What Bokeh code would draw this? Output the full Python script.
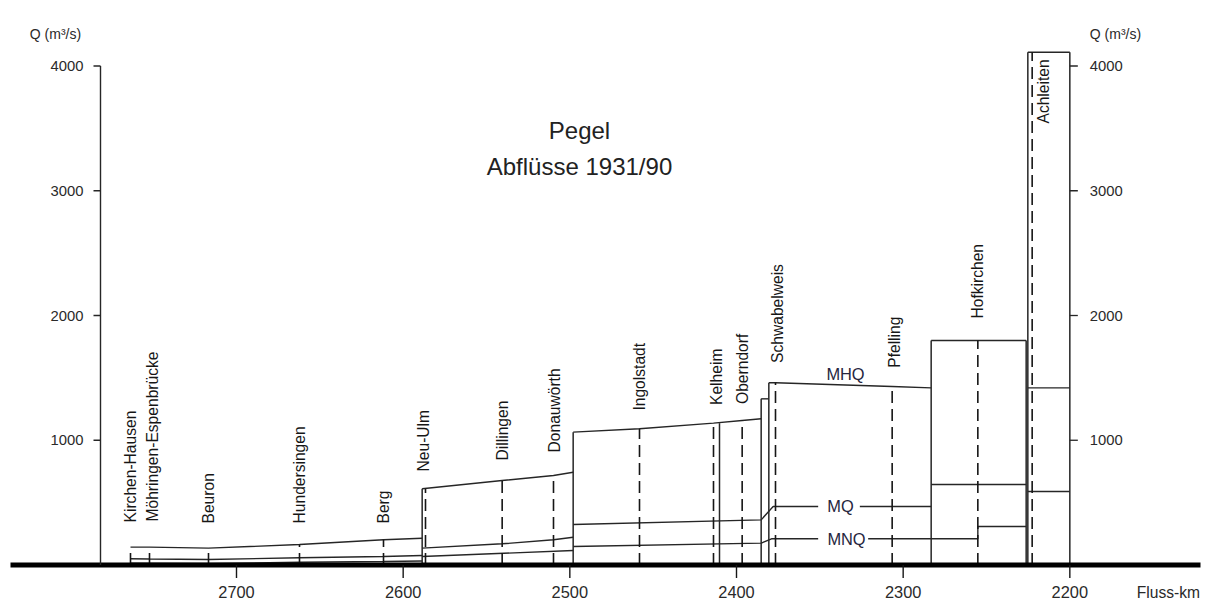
import math
from bokeh.plotting import figure
from bokeh.models import ColumnDataSource, Range1d
from bokeh.core.properties import value
from bokeh.embed import file_html
from bokeh.resources import INLINE

# ------------------------------------------------------------------ data
title_lines = ["Pegel", "Abflüsse 1931/90"]
y_label = "Q (m³/s)"
x_label = "Fluss-km"

x_ticks = [2700, 2600, 2500, 2400, 2300, 2200]
y_ticks = [1000, 2000, 3000, 4000]

station_names = ["Kirchen-Hausen", "Möhringen-Espenbrücke", "Beuron", "Hundersingen",
                 "Berg", "Neu-Ulm", "Dillingen", "Donauwörth", "Ingolstadt", "Kelheim",
                 "Oberndorf", "Schwabelweis", "Pfelling", "Hofkirchen", "Achleiten"]
station_km = [2763.6, 2752.2, 2716.8, 2662.2, 2611.8, 2586.6, 2540.6, 2509.8,
              2458.2, 2413.8, 2396.6, 2376.6, 2306.6, 2255.2, 2222.6]
station_mhq = [143, 143, 135, 164, 202, 611, 677, 717, 1092, 1137, 1158, 1461, 1431, 1800, 4110]

# reach boundaries (tributary inflows): km and MHQ height of the step
boundary_km = [2588.6, 2498.0, 2410.2, 2385.2, 2380.6, 2283.2, 2226.2, 2225.2, 2200.0]
boundary_q = [611, 1065, 1137, 1332, 1461, 1800, 1800, 4110, 4110]

# MHQ profile, one list per reach
mhq_km = [[2763.6, 2752.2, 2716.8, 2662.2, 2611.8, 2588.6],
          [2588.6, 2540.6, 2509.8, 2498.0],
          [2498.0, 2458.2, 2413.8, 2396.6, 2385.2],
          [2385.2, 2380.6],
          [2380.6, 2376.6, 2306.6, 2283.2],
          [2283.2, 2226.2],
          [2225.2, 2200.0]]
mhq_q = [[143, 143, 135, 164, 202, 215],
         [611, 677, 717, 744],
         [1065, 1092, 1137, 1158, 1172],
         [1332, 1332],
         [1461, 1461, 1431, 1420],
         [1800, 1800],
         [4110, 4110]]

# MQ profile
mq_km = [[2763.6, 2752.2, 2716.8, 2662.2, 2611.8, 2588.6],
         [2588.6, 2540.6, 2509.8, 2498.0],
         [2498.0, 2385.2, 2378.0, 2351.0],
         [2326.0, 2283.2],
         [2283.2, 2226.2],
         [2225.2, 2200.0]]
mq_q = [[50, 48, 44, 58, 68, 76],
        [135, 170, 202, 223],
        [325, 362, 469, 469],
        [469, 469],
        [645, 645],
        [1420, 1420]]

# MNQ profile
mnq_km = [[2763.6, 2716.8, 2662.2, 2611.8, 2588.6],
          [2588.6, 2498.0],
          [2498.0, 2385.2, 2379.0, 2351.0],
          [2321.0, 2255.2, 2255.2, 2226.2],
          [2225.2, 2200.0]]
mnq_q = [[15, 12, 22, 28, 32],
         [68, 116],
         [148, 175, 210, 210],
         [210, 210, 309, 309],
         [589, 589]]

series_names = ["MHQ", "MQ", "MNQ"]

# ------------------------------------------------------------------ layout
W, H = 1214, 603
KM_LEFT, KM_RIGHT = 2841.6, 2113.2
Q_BOTTOM, Q_TOP = -308.6, 4525.1
PPK = W / (KM_LEFT - KM_RIGHT)      # pixels per km
PPQ = H / (Q_TOP - Q_BOTTOM)        # pixels per m3/s


def kx(px):
    return px / PPK


def qy(px):
    return px / PPQ


FONT = "Liberation Sans"
INK = "#161616"
LINE = "#262626"
TXT = "#2a2a2a"

p = figure(width=W, height=H, x_range=Range1d(KM_LEFT, KM_RIGHT),
           y_range=Range1d(Q_BOTTOM, Q_TOP), output_backend="svg",
           toolbar_location=None, x_axis_type=None, y_axis_type=None,
           title=None, min_border=0, outline_line_color=None,
           background_fill_color="white", border_fill_color="white")
p.grid.visible = False

left_axis_km = x_ticks[0] + kx(236 - 100)
right_axis_km = x_ticks[-1]

# profiles
p.multi_line(xs=mhq_km, ys=mhq_q, line_color=LINE, line_width=1.4)
p.multi_line(xs=mq_km, ys=mq_q, line_color=LINE, line_width=1.4)
p.multi_line(xs=mnq_km, ys=mnq_q, line_color=LINE, line_width=1.4)

# reach boundaries
p.segment(x0=boundary_km, y0=[0] * len(boundary_km), x1=boundary_km, y1=boundary_q,
          line_color=LINE, line_width=1.5)

# gauge stations (dashed verticals)
p.segment(x0=station_km, y0=[0] * len(station_km), x1=station_km, y1=station_mhq,
          line_color=INK, line_width=1.6, line_dash="12 6")

# station labels
label_q = [341, 349, 333, 333, 333, 750, 838, 902, 1238, 1283, 1291, 1620, 1581, 1976, 3539]
label_dx = [0, 3, 0, 0, 0, -2, 0, 1, 0, 3, 0, 2, 2, 0, 11]
st_src = ColumnDataSource(dict(x=station_km, y=label_q, t=station_names, dx=label_dx))
p.text(x="x", y="y", text="t", x_offset="dx", source=st_src, angle=math.pi / 2,
       text_align="left", text_baseline="middle", text_font=value(FONT),
       text_font_size="15.6px", text_color=INK)

# series labels
ser_src = ColumnDataSource(dict(x=[2334.6, 2337.6, 2334.0], y=[1535, 469, 210], t=series_names))
p.text(x="x", y="y", text="t", source=ser_src, text_align="center",
       text_baseline="middle", text_font=value(FONT), text_font_size="16.4px",
       text_color="#262640")

# baseline (x axis)
p.segment(x0=[x_ticks[0] + kx(226)], y0=[0], x1=[x_ticks[0] - kx(964)], y1=[0],
          line_color="black", line_width=5)
p.segment(x0=x_ticks, y0=[0] * len(x_ticks), x1=x_ticks, y1=[-qy(13)] * len(x_ticks),
          line_color=INK, line_width=1.4)
p.text(x=x_ticks, y=[-qy(27)] * len(x_ticks), text=[str(t) for t in x_ticks],
       text_align="center", text_baseline="middle", text_font=value(FONT),
       text_font_size="16.4px", text_color=TXT)
p.text(x=[x_ticks[-1] - kx(67)], y=[-qy(27)], text=[x_label], text_align="left",
       text_baseline="middle", text_font=value(FONT), text_font_size="15.6px",
       text_color=TXT)

# left y axis
p.segment(x0=[left_axis_km], y0=[0], x1=[left_axis_km], y1=[y_ticks[-1]],
          line_color=LINE, line_width=1.4)
p.segment(x0=[left_axis_km] * len(y_ticks), y0=y_ticks,
          x1=[left_axis_km + kx(7)] * len(y_ticks), y1=y_ticks,
          line_color=LINE, line_width=1.3)
p.text(x=[left_axis_km + kx(17)] * len(y_ticks), y=y_ticks, text=[str(t) for t in y_ticks],
       text_align="right", text_baseline="middle", text_font=value(FONT),
       text_font_size="14.8px", text_color=TXT)
p.text(x=[left_axis_km + kx(45)], y=[y_ticks[-1] + qy(32)], text=[y_label],
       text_align="center", text_baseline="middle", text_font=value(FONT),
       text_font_size="14px", text_color=TXT)

# right y axis (ticks on the Achleiten box edge)
p.segment(x0=[right_axis_km] * len(y_ticks), y0=y_ticks,
          x1=[right_axis_km - kx(8)] * len(y_ticks), y1=y_ticks,
          line_color=LINE, line_width=1.3)
p.text(x=[right_axis_km - kx(20)] * len(y_ticks), y=y_ticks, text=[str(t) for t in y_ticks],
       text_align="left", text_baseline="middle", text_font=value(FONT),
       text_font_size="14.8px", text_color=TXT)
p.text(x=[right_axis_km - kx(20)], y=[y_ticks[-1] + qy(32)], text=[y_label],
       text_align="left", text_baseline="middle", text_font=value(FONT),
       text_font_size="14px", text_color=TXT)

# title
p.text(x=[2494.2, 2494.2], y=[3483, 3194], text=title_lines, text_align="center",
       text_baseline="middle", text_font=value(FONT), text_font_size="24px",
       text_color="#222222")

open("out.html", "w").write(file_html(p, INLINE))
